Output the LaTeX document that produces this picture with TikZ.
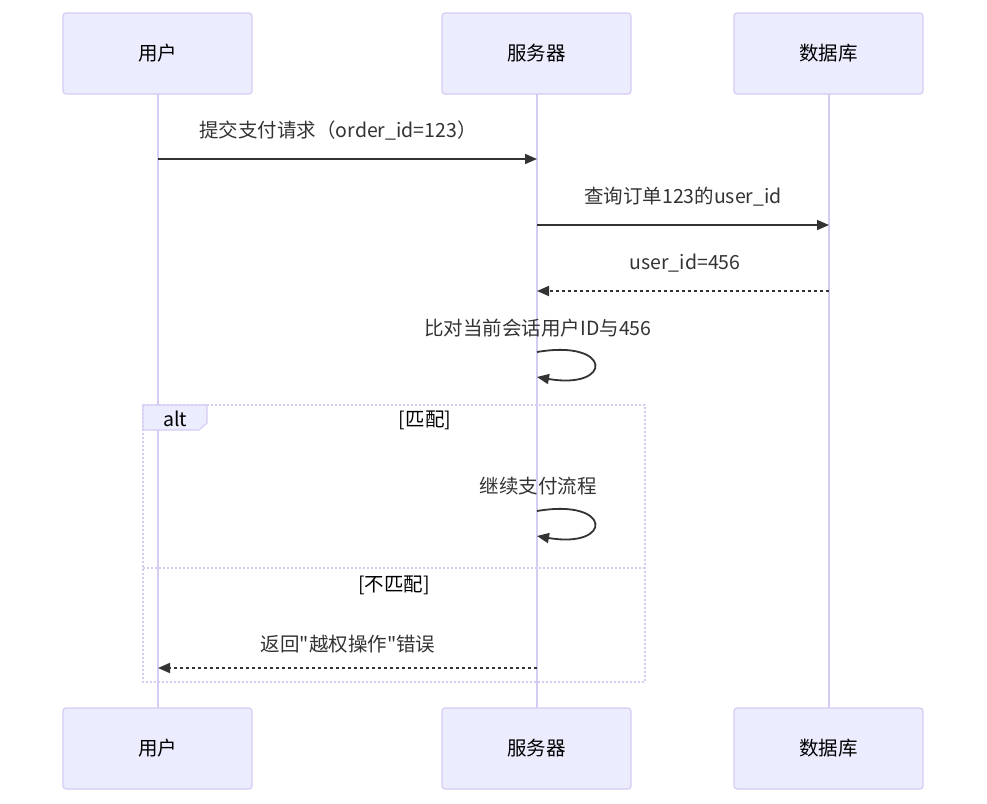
\documentclass[tikz,border=0pt]{standalone}
\usepackage{fontspec}
\newfontfamily\cjk{Noto Sans CJK SC}
\usetikzlibrary{arrows.meta}
\definecolor{actfill}{HTML}{ECECFF}
\definecolor{actline}{HTML}{D6CBF3}
\definecolor{txt}{HTML}{333333}
\tikzset{
  actor/.style={draw=actline, fill=actfill, line width=1.2pt, rounded corners=3pt,
    minimum width=189pt, minimum height=81pt, inner sep=0pt, text=black,
    font=\cjk\fontsize{19.5}{23}\selectfont},
  life/.style={draw=actline, line width=2pt},
  msg/.style={draw=txt, line width=1.8pt, -{Triangle[length=12pt,width=10pt]}},
  dmsg/.style={msg, dash pattern=on 3pt off 3pt},
  lbl/.style={text=txt, font=\cjk\fontsize{19.5}{23}\selectfont, inner sep=0pt},
  sect/.style={text=black, font=\cjk\fontsize{19.5}{23}\selectfont, inner sep=0pt},
  altbox/.style={draw=actline, line width=2.4pt, dash pattern=on 2pt off 2pt},
}
\begin{document}
\begin{tikzpicture}[x=1pt,y=-1pt]
\useasboundingbox (0,0) rectangle (987,803);
% lifelines
\coordinate (uT) at (158,94); \coordinate (uB) at (158,708);
\coordinate (sT) at (537,94); \coordinate (sB) at (537,708);
\coordinate (dT) at (829,94); \coordinate (dB) at (829,708);
\draw[life] (uT) -- (uB);
\draw[life] (sT) -- (sB);
\draw[life] (dT) -- (dB);
% actors
\node[actor] (u1) at (157.5,53.5) {用户};
\node[actor] (s1) at (536.5,53.5) {服务器};
\node[actor] (d1) at (828.5,53.5) {数据库};
\node[actor] (u2) at (157.5,748.5) {用户};
\node[actor] (s2) at (536.5,748.5) {服务器};
\node[actor] (d2) at (828.5,748.5) {数据库};
% alt frame
\draw[altbox] (143,405) rectangle (645,682);
\draw[altbox] (143,568) -- (645,568);
\draw[draw=actline, fill=actfill, line width=1.2pt] (143,405) -- (207,405) -- (207,423) -- (199,430) -- (143,430) -- cycle;
\node[sect] (alt) at (175,419) {alt};
\node[sect] (g1) at (425,420) {[匹配]};
\node[sect] (g2) at (394,585) {[不匹配]};
% messages
\coordinate (m1a) at (158,159); \coordinate (m1b) at (537,159);
\draw[msg] (m1a) -- (m1b);
\node[lbl] (t1) at (338,131) {提交支付请求（order\_id=123）};
\coordinate (m2a) at (537,225); \coordinate (m2b) at (829,225);
\draw[msg] (m2a) -- (m2b);
\node[lbl] (t2) at (683,197) {查询订单123的user\_id};
\coordinate (m3a) at (829,291); \coordinate (m3b) at (537,291);
\draw[dmsg] (m3a) -- (m3b);
\node[lbl] (t3) at (685,263) {user\_id=456};
\coordinate (l1a) at (537,352); \coordinate (l1b) at (537,377);
\draw[msg] (l1a) .. controls (613,339) and (613,390) .. (l1b);
\node[lbl] (t4) at (538,328) {比对当前会话用户ID与456};
\coordinate (l2a) at (537,511); \coordinate (l2b) at (537,536);
\draw[msg] (l2a) .. controls (613,498) and (613,549) .. (l2b);
\node[lbl] (t5) at (538,486) {继续支付流程};
\coordinate (m5a) at (537,668); \coordinate (m5b) at (158,668);
\draw[dmsg] (m5a) -- (m5b);
\node[lbl] (t6) at (348,644) {返回"越权操作"错误};
\end{tikzpicture}
\end{document}
